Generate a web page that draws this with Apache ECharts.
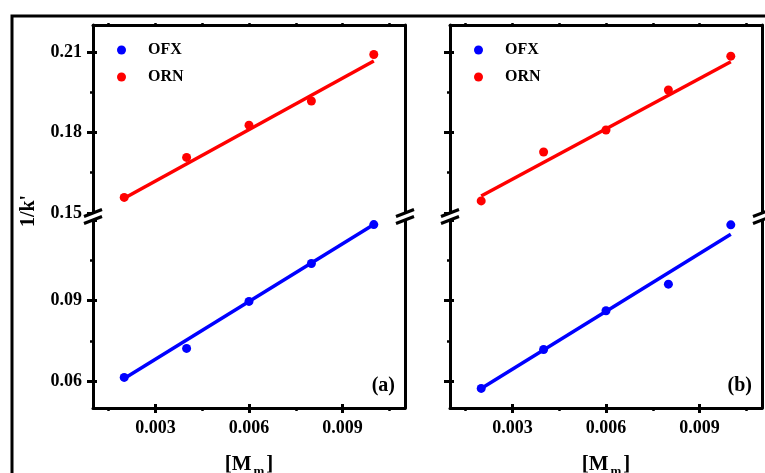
<!DOCTYPE html>
<html>
<head>
<meta charset="utf-8">
<script src="https://cdn.jsdelivr.net/npm/echarts@6/dist/echarts.min.js"></script>
<style>
  html, body { margin: 0; padding: 0; background: #fff; }
  #chart { width: 765px; height: 473px; }
</style>
</head>
<body>
<div id="chart"></div>
<script>
// Surfactant concentration [Mm] (mol/L)
const conc = [0.002, 0.004, 0.006, 0.008, 0.010];

// 1/k' measured values, panel (a)
const ofxA = [0.0614, 0.0722, 0.0897, 0.1038, 0.1183];
const ornA = [0.1558, 0.1707, 0.1827, 0.1917, 0.2090];
// 1/k' measured values, panel (b)
const ofxB = [0.0573, 0.0718, 0.0862, 0.0961, 0.1182];
const ornB = [0.1545, 0.1727, 0.1809, 0.1958, 0.2084];

// Linear fit end points
const fitX = [0.002, 0.010];
const fitOfxA = [0.0610, 0.1183];
const fitOrnA = [0.1555, 0.2066];
const fitOfxB = [0.0573, 0.1147];
const fitOrnB = [0.1563, 0.2063];

// Axis ranges and ticks
const xRange = [0.001, 0.011];
const xMajor = [0.003, 0.006, 0.009];
const xMinor = [0.0015, 0.0045, 0.0075, 0.0105];
const yLowRange = [0.05, 0.12];
const yLowMajor = [0.06, 0.09, 0.12];
const yLowLabels = [0.06, 0.09];
const yLowMinor = [0.075, 0.105];
const yHighRange = [0.15, 0.22];
const yHighMajor = [0.15, 0.18, 0.21];
const yHighMinor = [0.165, 0.195];

const panelTags = ['(a)', '(b)'];
const seriesNames = ['OFX', 'ORN'];

const FONT = '"Liberation Serif", "Times New Roman", serif';
const BLACK = '#000';
const BLUE = '#0000ff';
const RED = '#ff0000';

const panels = [
  { tag: panelTags[0], ofx: ofxA, orn: ornA, fitOfx: fitOfxA, fitOrn: fitOrnA, left: 93, right: 360, legendLeft: 112, yLabels: true },
  { tag: panelTags[1], ofx: ofxB, orn: ornB, fitOfx: fitOfxB, fitOrn: fitOrnB, left: 450, right: 3, legendLeft: 469, yLabels: false }
];

function tick(values, len, inside, width) {
  return { show: true, customValues: values, length: len, inside: inside,
           lineStyle: { color: BLACK, width: width } };
}
function axis(base) {
  return Object.assign({
    type: 'value',
    splitLine: { show: false },
    axisLabel: { show: false },
    axisTick: { show: false },
    axisLine: { show: false, onZero: false }
  }, base);
}
const axisLine = { show: true, onZero: false, lineStyle: { color: BLACK, width: 3 } };
const labelStyle = { fontSize: 18, fontWeight: 'bold', fontFamily: FONT, color: BLACK };

const grids = [], xAxes = [], yAxes = [], series = [], legends = [], refs = [];

panels.forEach(function (p) {
  const gU = grids.length;
  grids.push({ left: p.left, right: p.right, top: 25, bottom: 260, outerBoundsMode: 'none', containLabel: false });
  const gL = grids.length;
  grids.push({ left: p.left, right: p.right, top: 220, bottom: 65, outerBoundsMode: 'none', containLabel: false });

  // bottom x axis (lower block)
  const xMain = xAxes.length;
  xAxes.push(axis({
    gridIndex: gL, position: 'bottom', min: xRange[0], max: xRange[1],
    axisLine: axisLine,
    axisTick: tick(xMajor, 5, false, 3),
    axisLabel: Object.assign({ show: true }, labelStyle, { customValues: xMajor, margin: 11,
      formatter: function (v) { return v.toFixed(3); } }),
    name: '{a|[M}{s|m}{a|]}',
    nameLocation: 'middle',
    nameGap: 43,
    nameTextStyle: {
      rich: {
        a: { fontSize: 21, fontWeight: 'bold', fontFamily: FONT, color: BLACK },
        s: { fontSize: 13, fontWeight: 'bold', fontFamily: FONT, color: BLACK, padding: [14, 2, 0, 2] }
      }
    }
  }));
  xAxes.push(axis({ gridIndex: gL, position: 'bottom', min: xRange[0], max: xRange[1],
    axisTick: tick(xMajor, 4, true, 3) }));
  xAxes.push(axis({ gridIndex: gL, position: 'bottom', min: xRange[0], max: xRange[1],
    axisTick: tick(xMinor, 3, false, 2.5) }));

  // top frame axis (upper block)
  const xTop = xAxes.length;
  xAxes.push(axis({ gridIndex: gU, position: 'top', min: xRange[0], max: xRange[1],
    axisLine: axisLine, axisTick: tick(xMajor.concat(xMinor), 2, false, 2.5) }));

  // lower block y axes
  const yL = yAxes.length;
  yAxes.push(axis({ gridIndex: gL, position: 'left', min: yLowRange[0], max: yLowRange[1],
    axisLine: axisLine, axisTick: tick(yLowMajor, 6, false, 3),
    axisLabel: Object.assign({ show: p.yLabels }, labelStyle, { customValues: yLowLabels, margin: 11,
      formatter: function (v) { return v.toFixed(2); } }) }));
  yAxes.push(axis({ gridIndex: gL, position: 'left', min: yLowRange[0], max: yLowRange[1],
    axisTick: tick(yLowMajor, 4, true, 3) }));
  yAxes.push(axis({ gridIndex: gL, position: 'left', min: yLowRange[0], max: yLowRange[1],
    axisTick: tick(yLowMinor, 3, false, 2.5) }));
  yAxes.push(axis({ gridIndex: gL, position: 'right', min: yLowRange[0], max: yLowRange[1],
    axisLine: axisLine }));

  // upper block y axes
  const yU = yAxes.length;
  yAxes.push(axis({ gridIndex: gU, position: 'left', min: yHighRange[0], max: yHighRange[1],
    axisLine: axisLine, axisTick: tick(yHighMajor, 6, false, 3),
    axisLabel: Object.assign({ show: p.yLabels }, labelStyle, { customValues: yHighMajor, margin: 11,
      formatter: function (v) { return v.toFixed(2); } }) }));
  yAxes.push(axis({ gridIndex: gU, position: 'left', min: yHighRange[0], max: yHighRange[1],
    axisTick: tick(yHighMajor, 4, true, 3) }));
  yAxes.push(axis({ gridIndex: gU, position: 'left', min: yHighRange[0], max: yHighRange[1],
    axisTick: tick(yHighMinor, 3, false, 2.5) }));
  yAxes.push(axis({ gridIndex: gU, position: 'right', min: yHighRange[0], max: yHighRange[1],
    axisLine: axisLine }));

  refs.push({ xMain: xMain, yL: yL, yU: yU, tag: p.tag });

  const pair = function (xs, ys) { return xs.map(function (x, i) { return [x, ys[i]]; }); };

  series.push({ type: 'line', xAxisIndex: xMain, yAxisIndex: yL, data: pair(fitX, p.fitOfx),
    symbol: 'none', lineStyle: { color: BLUE, width: 3.5 }, z: 2, silent: true });
  series.push({ type: 'line', xAxisIndex: xTop, yAxisIndex: yU, data: pair(fitX, p.fitOrn),
    symbol: 'none', lineStyle: { color: RED, width: 3.5 }, z: 2, silent: true });
  series.push({ type: 'scatter', name: seriesNames[0], xAxisIndex: xMain, yAxisIndex: yL,
    data: pair(conc, p.ofx), symbol: 'circle', symbolSize: 9,
    itemStyle: { color: BLUE, opacity: 1 }, z: 3 });
  series.push({ type: 'scatter', name: seriesNames[1], xAxisIndex: xTop, yAxisIndex: yU,
    data: pair(conc, p.orn), symbol: 'circle', symbolSize: 9,
    itemStyle: { color: RED, opacity: 1 }, z: 3 });

  legends.push({
    data: seriesNames, orient: 'vertical', left: p.legendLeft, top: 37,
    icon: 'circle', itemWidth: 9, itemHeight: 9, itemGap: 11, selectedMode: false,
    itemStyle: { opacity: 1 },
    textStyle: { fontSize: 16, fontWeight: 'bold', fontFamily: FONT, color: BLACK, padding: [0, 0, 0, 17] }
  });
});

const chart = echarts.init(document.getElementById('chart'), null, { renderer: 'canvas' });
chart.setOption({
  animation: false,
  backgroundColor: '#fff',
  grid: grids,
  xAxis: xAxes,
  yAxis: yAxes,
  legend: legends,
  series: series
});

// Frame, axis title, panel tags and axis-break marks
const graphics = [
  { type: 'rect', shape: { x: 12, y: 16, width: 780, height: 490 },
    style: { fill: 'none', stroke: BLACK, lineWidth: 3 }, z: 10 },
  { type: 'text', x: 29, y: 211, rotation: Math.PI / 2,
    style: { text: "1/k'", font: 'bold 20px ' + FONT, fill: BLACK, align: 'center', verticalAlign: 'middle' }, z: 10 }
];
refs.forEach(function (r) {
  const xl = chart.convertToPixel({ xAxisIndex: r.xMain }, xRange[0]);
  const xr = chart.convertToPixel({ xAxisIndex: r.xMain }, xRange[1]);
  const yTop = chart.convertToPixel({ yAxisIndex: r.yU }, yHighRange[0]);
  const yBot = chart.convertToPixel({ yAxisIndex: r.yL }, yLowRange[1]);
  const yBase = chart.convertToPixel({ yAxisIndex: r.yL }, yLowRange[0]);
  graphics.push({ type: 'text', x: xr - 10, y: yBase - 22,
    style: { text: r.tag, font: 'bold 20px ' + FONT, fill: BLACK, align: 'right', verticalAlign: 'middle' }, z: 10 });
  [xl, xr].forEach(function (x) {
    const dx = 9, dy = 3.5;
    graphics.push({ type: 'polygon', shape: { points: [[x - dx, yTop + dy], [x + dx, yTop - dy], [x + dx, yBot - dy], [x - dx, yBot + dy]] },
      style: { fill: '#fff' }, z: 20 });
    graphics.push({ type: 'line', shape: { x1: x - dx, y1: yTop + dy, x2: x + dx, y2: yTop - dy },
      style: { stroke: BLACK, lineWidth: 3 }, z: 21 });
    graphics.push({ type: 'line', shape: { x1: x - dx, y1: yBot + dy, x2: x + dx, y2: yBot - dy },
      style: { stroke: BLACK, lineWidth: 3 }, z: 21 });
  });
});
chart.setOption({ graphic: graphics });
</script>
</body>
</html>
